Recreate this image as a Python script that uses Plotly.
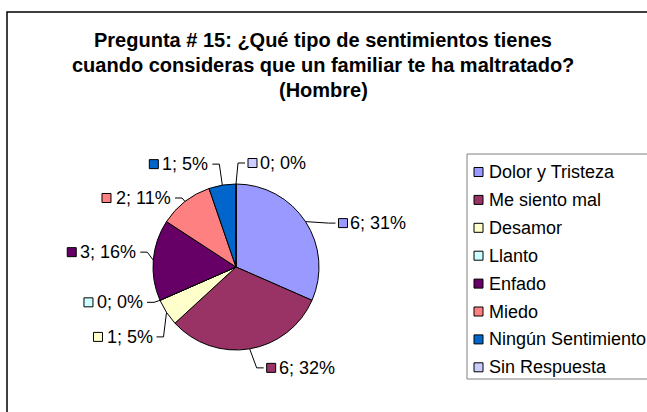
import math
import plotly.graph_objects as go

categorias = ["Dolor y Tristeza", "Me siento mal", "Desamor", "Llanto",
              "Enfado", "Miedo", "Ningún Sentimiento", "Sin Respuesta"]
valores = [6, 6, 1, 0, 3, 2, 1, 0]
porcentajes = [31, 32, 5, 0, 16, 11, 5, 0]
colores = ["#9999FF", "#993366", "#FFFFCC", "#CCFFFF",
           "#660066", "#FF8080", "#0066CC", "#CCCCFF"]
titulo = ["Pregunta # 15: ¿Qué tipo de sentimientos tienes",
          "cuando consideras que un familiar te ha maltratado?",
          "(Hombre)"]

W, H = 647, 412
cx, cy, r = 236, 267, 83          # pie centre / radius in px
# where each leader line ends, relative to the slice's edge point (px)
desfase = [(30, 1.5), (14, 19), (-10, 24.5), (-13, 2),
           (-13, -8), (-10, -3.5), (-10, -21), (9, -21)]
FONT = "Liberation Sans, Arial, sans-serif"
FS = 18

def X(x):
    return x / W

def Y(y):
    return 1 - y / H

# approx Arial widths, used to put the little square in front of left labels
anchos = {";": .278, " ": .278, "%": .889}
def ancho(t):
    return sum(anchos.get(c, .556) for c in t) * FS

fig = go.Figure(go.Pie(
    labels=categorias, values=valores,
    marker=dict(colors=colores, line=dict(color="black", width=1)),
    sort=False, direction="clockwise", rotation=0,
    textinfo="none", hoverinfo="label+value+percent",
    domain=dict(x=[X(cx - r), X(cx + r)], y=[Y(cy + r), Y(cy - r)]),
))

shapes = []
annotations = []

total = sum(valores)
acum = 0
for i, v in enumerate(valores):
    a = 2 * math.pi * (acum + v / 2) / total
    acum += v
    ex = cx + r * math.sin(a)
    ey = cy - r * math.cos(a)
    dx, dy = desfase[i]
    fx, fy = ex + dx, ey + dy
    lado = 1 if dx > 0 else -1
    codo = fx - 7 * lado
    shapes.append(dict(type="path", xref="paper", yref="paper",
                       path=f"M {X(ex)} {Y(ey)} L {X(codo)} {Y(fy)} L {X(fx)} {Y(fy)}",
                       line=dict(color="black", width=1)))
    txt = f"{v}; {porcentajes[i]}%"
    if lado > 0:
        sq0 = fx + 3
        annotations.append(dict(x=X(fx + 13), y=Y(fy), xref="paper", yref="paper",
                                text=txt, showarrow=False, xanchor="left", yanchor="middle",
                                font=dict(family=FONT, size=FS, color="black")))
    else:
        tw = ancho(txt)
        sq0 = fx - 3 - tw - 5 - 9
        annotations.append(dict(x=X(fx - 2), y=Y(fy), xref="paper", yref="paper",
                                text=txt, showarrow=False, xanchor="right", yanchor="middle",
                                font=dict(family=FONT, size=FS, color="black")))
    shapes.append(dict(type="rect", xref="paper", yref="paper",
                       x0=X(sq0), x1=X(sq0 + 9), y0=Y(fy - 4.5), y1=Y(fy + 4.5),
                       fillcolor=colores[i], line=dict(color="black", width=1)))

# legend box (drawn by hand so the row spacing matches)
shapes.append(dict(type="rect", xref="paper", yref="paper",
                   x0=X(467), x1=X(700), y0=Y(154), y1=Y(379),
                   line=dict(color="#808080", width=1), fillcolor="rgba(0,0,0,0)"))
for i, c in enumerate(categorias):
    yc = 172 + i * 27.9
    shapes.append(dict(type="rect", xref="paper", yref="paper",
                       x0=X(474), x1=X(483), y0=Y(yc - 4.5), y1=Y(yc + 4.5),
                       fillcolor=colores[i], line=dict(color="black", width=1)))
    annotations.append(dict(x=X(487), y=Y(yc), xref="paper", yref="paper",
                            text=c, showarrow=False, xanchor="left", yanchor="middle",
                            font=dict(family=FONT, size=FS, color="black")))

# title, one line per annotation
for i, linea in enumerate(titulo):
    annotations.append(dict(x=X(323), y=Y(40 + 25 * i), xref="paper", yref="paper",
                            text="<b>" + linea + "</b>", showarrow=False,
                            xanchor="center", yanchor="middle",
                            font=dict(family=FONT, size=20, color="black")))

# outer chart frame
shapes.append(dict(type="rect", xref="paper", yref="paper",
                   x0=X(7), x1=X(700), y0=Y(12), y1=Y(460),
                   line=dict(color="black", width=1.5), fillcolor="rgba(0,0,0,0)"))

fig.update_layout(
    width=W, height=H,
    margin=dict(l=0, r=0, t=0, b=0),
    paper_bgcolor="white", plot_bgcolor="white",
    showlegend=False,
    shapes=shapes, annotations=annotations,
)

fig.write_html("out.html", config={"displayModeBar": False},
               post_script="document.body.style.margin='0';")
